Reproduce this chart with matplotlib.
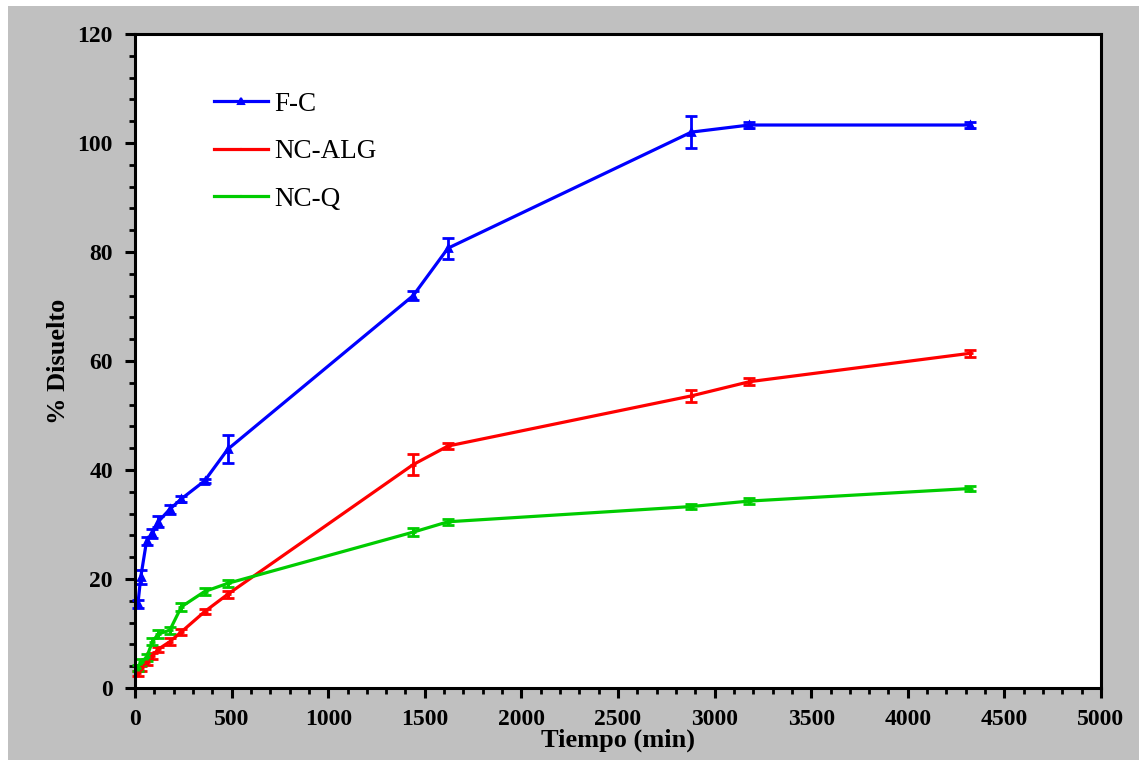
import matplotlib
matplotlib.use("Agg")
import matplotlib.pyplot as plt
from matplotlib.ticker import MultipleLocator
from matplotlib.patches import Rectangle
from matplotlib.lines import Line2D

tiempo = [15, 30, 60, 90, 120, 180, 240, 360, 480, 1440, 1620, 2880, 3180, 4320]

fc = [15.4, 20.4, 27.0, 28.4, 30.5, 32.8, 34.7, 38.0, 43.8, 72.0, 80.7, 102.0, 103.3, 103.3]
fc_err = [0.8, 1.3, 0.7, 0.8, 1.0, 0.8, 0.5, 0.4, 2.6, 0.8, 1.9, 2.9, 0.6, 0.6]

ncalg = [2.7, 3.6, 4.8, 5.9, 7.1, 8.5, 10.3, 14.0, 17.2, 41.0, 44.4, 53.6, 56.2, 61.4]
ncalg_err = [0.5, 0.5, 0.5, 0.5, 0.5, 0.6, 0.6, 0.5, 0.6, 2.0, 0.6, 1.1, 0.6, 0.6]

ncq = [3.7, 4.8, 5.6, 8.5, 9.9, 10.6, 14.9, 17.7, 19.2, 28.6, 30.5, 33.3, 34.3, 36.6]
ncq_err = [0.6, 0.6, 0.6, 0.7, 0.8, 0.6, 0.7, 0.6, 0.6, 0.8, 0.6, 0.5, 0.5, 0.5]

labels = ["F-C", "NC-ALG", "NC-Q"]
colors = ["#0000ff", "#ff0000", "#00cc00"]

plt.rcParams['font.family'] = ['Liberation Serif', 'DejaVu Serif']

fig = plt.figure(figsize=(11.39, 7.6), dpi=100)
fig.patch.set_facecolor('white')
fig.patches.append(Rectangle((8/1139, 0), 1 - 8/1139, 1 - 6/760, transform=fig.transFigure,
                             facecolor='#c0c0c0', edgecolor='none', zorder=-10))
ax = fig.add_axes([135/1139, 1 - 688/760, 966/1139, 654/760])
ax.set_facecolor('white')

series = [(fc, fc_err, '^'), (ncalg, ncalg_err, '+'), (ncq, ncq_err, '+')]
handles = []
for (y, e, m), lab, c in zip(series, labels, colors):
    ax.errorbar(tiempo, y, yerr=e, color=c, lw=2.3, marker=m, markersize=5, mew=2,
                elinewidth=2, capsize=4.5, capthick=2, clip_on=False)
    handles.append(Line2D([], [], color=c, lw=2.3, marker=m, markersize=4 if m == '^' else 2, mew=1.5))

ax.set_xlim(0, 5000)
ax.set_ylim(0, 120)
ax.xaxis.set_major_locator(MultipleLocator(500))
ax.xaxis.set_minor_locator(MultipleLocator(100))
ax.yaxis.set_major_locator(MultipleLocator(20))
ax.yaxis.set_minor_locator(MultipleLocator(4))
ax.tick_params(which='major', direction='out', length=7, width=2.2, labelsize=17)
ax.tick_params(axis='x', which='major', pad=8)
ax.tick_params(axis='y', which='major', pad=9)
ax.tick_params(which='minor', direction='out', length=4, width=2)
ax.tick_params(top=False, right=False)
for lab in ax.get_xticklabels() + ax.get_yticklabels():
    lab.set_fontweight('bold')
for s in ax.spines.values():
    s.set_linewidth(2.2)

ax.set_xlabel('Tiempo (min)', fontsize=19, fontweight='bold', labelpad=-1)
ax.set_ylabel('% Disuelto', fontsize=19, fontweight='bold', labelpad=5)

leg = ax.legend(handles, labels, loc='upper left', bbox_to_anchor=(0.082, 0.912), frameon=False,
                fontsize=19.5, handlelength=2.0, handletextpad=0.2, labelspacing=0.83,
                borderpad=0, borderaxespad=0)

fig.savefig('out.png', dpi=100, facecolor=fig.get_facecolor())
